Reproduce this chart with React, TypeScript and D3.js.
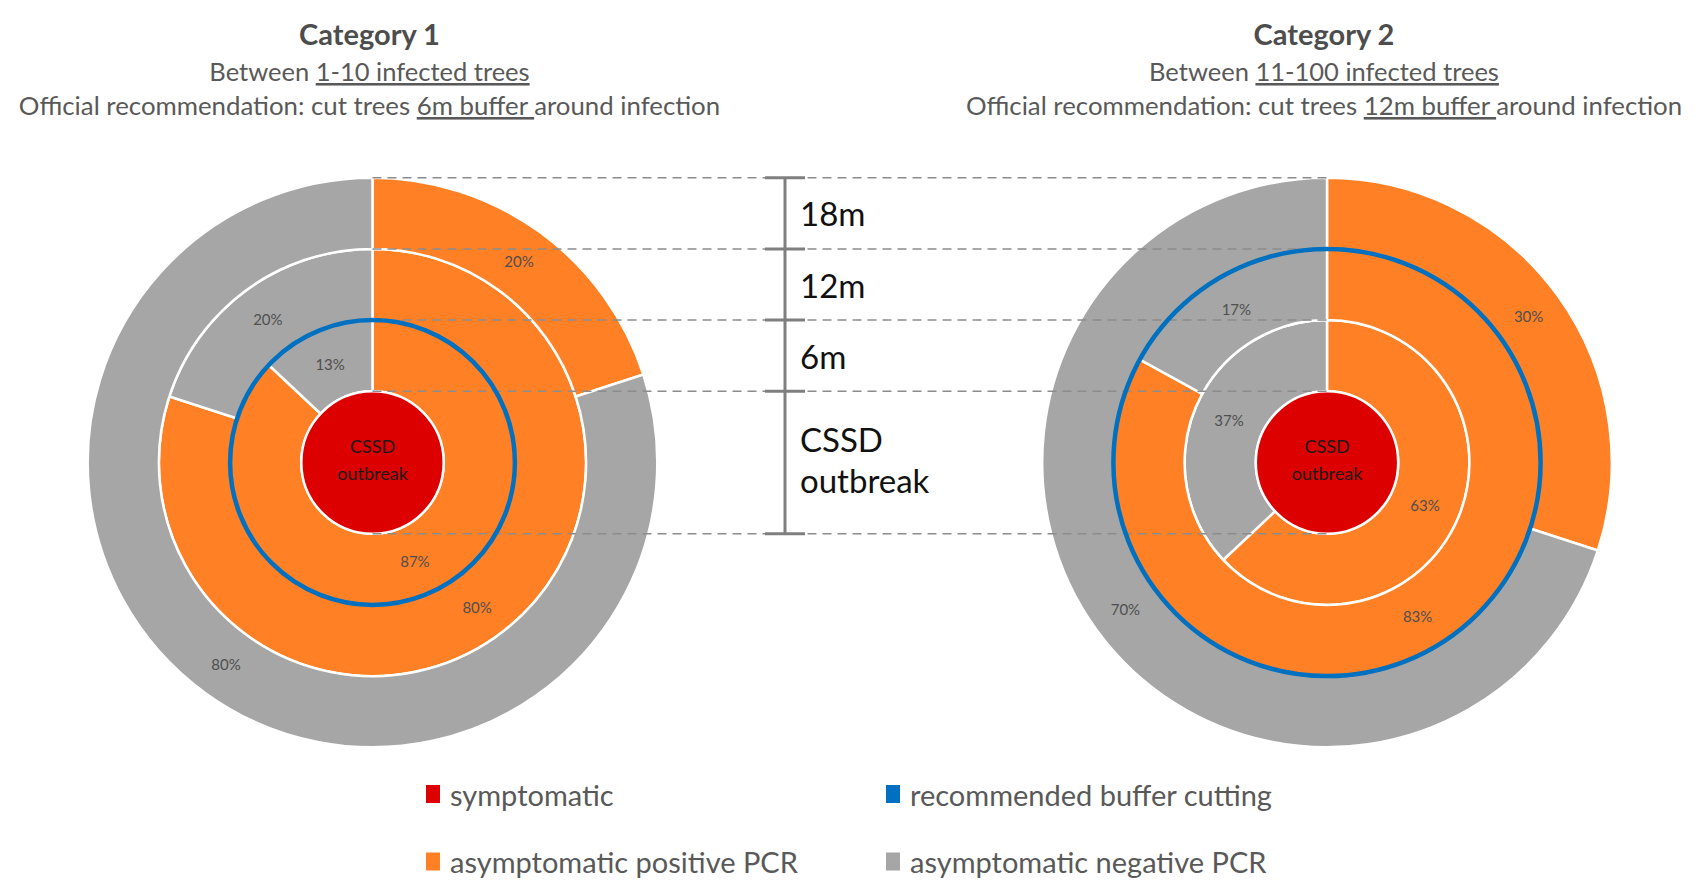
import React from 'react'
import * as d3 from 'd3'

// chart data
const categories = ['Category 1', 'Category 2']
const treeRanges = ['1-10 infected trees', '11-100 infected trees']
const bufferTexts = ['6m buffer ', '12m buffer ']
const bufferMeters = [6, 12]
const ringMeters = [6, 12, 18]
const distanceLabels = ['6m', '12m', '18m']
const positiveCat1 = [87, 80, 20]
const negativeCat1 = [13, 20, 80]
const positiveCat2 = [63, 83, 30]
const negativeCat2 = [37, 17, 70]
const legendLabels = ['symptomatic', 'recommended buffer cutting', 'asymptomatic positive PCR', 'asymptomatic negative PCR']

const W = 1703
const H = 895
const FONT = 'Lato, "Open Sans", sans-serif'
const RED = '#dd0000'
const ORANGE = '#ff8025'
const GREY = '#a6a6a6'
const BLUE = '#0070c0'
const TEXT = '#595959'
const legendColors = [RED, BLUE, ORANGE, GREY]

const centersX = [372.5, 1327]
const cy = 462.5
const band = 71.2
const r = d3.scaleLinear().domain([0, 18]).range([band, band * 4])

function Donut({ cx, pos, neg }: { cx: number; pos: number[]; neg: number[] }) {
    const pie = d3.pie<number>().sort(null).value((d) => d).startAngle(0).endAngle(2 * Math.PI)
    return (
        <g transform={`translate(${cx},${cy})`}>
            {ringMeters.map((m, i) => {
                const arc = d3.arc<d3.PieArcDatum<number>>()
                    .innerRadius(r(m - 6))
                    .outerRadius(r(m))
                const slices = pie([pos[i], neg[i]])
                return (
                    <g key={m}>
                        {slices.map((s, j) => (
                            <path key={j} d={arc(s) || ''} fill={j === 0 ? ORANGE : GREY}
                                stroke="#fff" strokeWidth={2.5} />
                        ))}
                        {slices.map((s, j) => {
                            const [x, y] = arc.centroid(s)
                            return (
                                <text key={'t' + j} x={x} y={y} textAnchor="middle" dominantBaseline="central"
                                    fontSize={15} fill="#4f4f4f" fontFamily={FONT}>{s.data}%</text>
                            )
                        })}
                    </g>
                )
            })}
            <circle r={r(0)} fill={RED} stroke="#fff" strokeWidth={2.5} />
            <text textAnchor="middle" fontSize={18} fill="#1a1a1a" fontFamily={FONT}>
                <tspan x={0} y={-10}>CSSD</tspan>
                <tspan x={0} y={17}>outbreak</tspan>
            </text>
        </g>
    )
}

export default function App() {
    const barX = 785
    const levels = [...ringMeters].reverse().map((m) => cy - r(m)).concat([cy - r(0), cy + r(0)])
    return (
        <svg width={W} height={H} style={{ position: 'absolute', left: 0, top: 0 }}>
            <rect width={W} height={H} fill="#fff" />
            {categories.map((c, i) => (
                <g key={c} fontFamily={FONT} textAnchor="middle" fill={TEXT}>
                    <text x={centersX[i] - 3} y={45} fontSize={29} fontWeight="bold" fill="#4d4d4d">{c}</text>
                    <text x={centersX[i] - 3} y={81} fontSize={25.5}>
                        Between <tspan textDecoration="underline">{treeRanges[i]}</tspan>
                    </text>
                    <text x={centersX[i] - 3} y={115} fontSize={25.8}>
                        Official recommendation: cut trees <tspan textDecoration="underline">{bufferTexts[i]}</tspan>around infection
                    </text>
                </g>
            ))}
            <Donut cx={centersX[0]} pos={positiveCat1} neg={negativeCat1} />
            <Donut cx={centersX[1]} pos={positiveCat2} neg={negativeCat2} />
            {levels.map((y, i) => (
                <line key={i} x1={centersX[0]} x2={centersX[1]} y1={y} y2={y}
                    stroke="#8c8c8c" strokeWidth={1.5} strokeDasharray="9,6" />
            ))}
            {bufferMeters.map((b, i) => (
                <circle key={i} cx={centersX[i]} cy={cy} r={r(b)} fill="none" stroke={BLUE} strokeWidth={4.5} />
            ))}
            <g stroke="#7f7f7f" strokeWidth={3}>
                <line x1={barX} x2={barX} y1={levels[0]} y2={levels[levels.length - 1]} />
                {levels.map((y, i) => (
                    <line key={i} x1={barX - 20} x2={barX + 20} y1={y} y2={y} />
                ))}
            </g>
            <g fontFamily={FONT} fontSize={33} fill="#111">
                {ringMeters.map((m, i) => (
                    <text key={m} x={barX + 15} y={cy - (r(m) + r(m - 6)) / 2} dominantBaseline="central">{distanceLabels[i]}</text>
                ))}
                <text x={barX + 15} y={cy - 24} dominantBaseline="central">CSSD</text>
                <text x={barX + 15} y={cy + 17} dominantBaseline="central">outbreak</text>
            </g>
            <g fontFamily={FONT} fontSize={29} fill={TEXT}>
                {legendLabels.map((l, i) => {
                    const x = i % 2 === 0 ? 433 : 893
                    const y = i < 2 ? 794 : 861.5
                    return (
                        <g key={l}>
                            <rect x={x - 7} y={y - 9} width={14} height={18} fill={legendColors[i]} />
                            <text x={x + 17} y={y} dominantBaseline="central">{l}</text>
                        </g>
                    )
                })}
            </g>
        </svg>
    )
}
